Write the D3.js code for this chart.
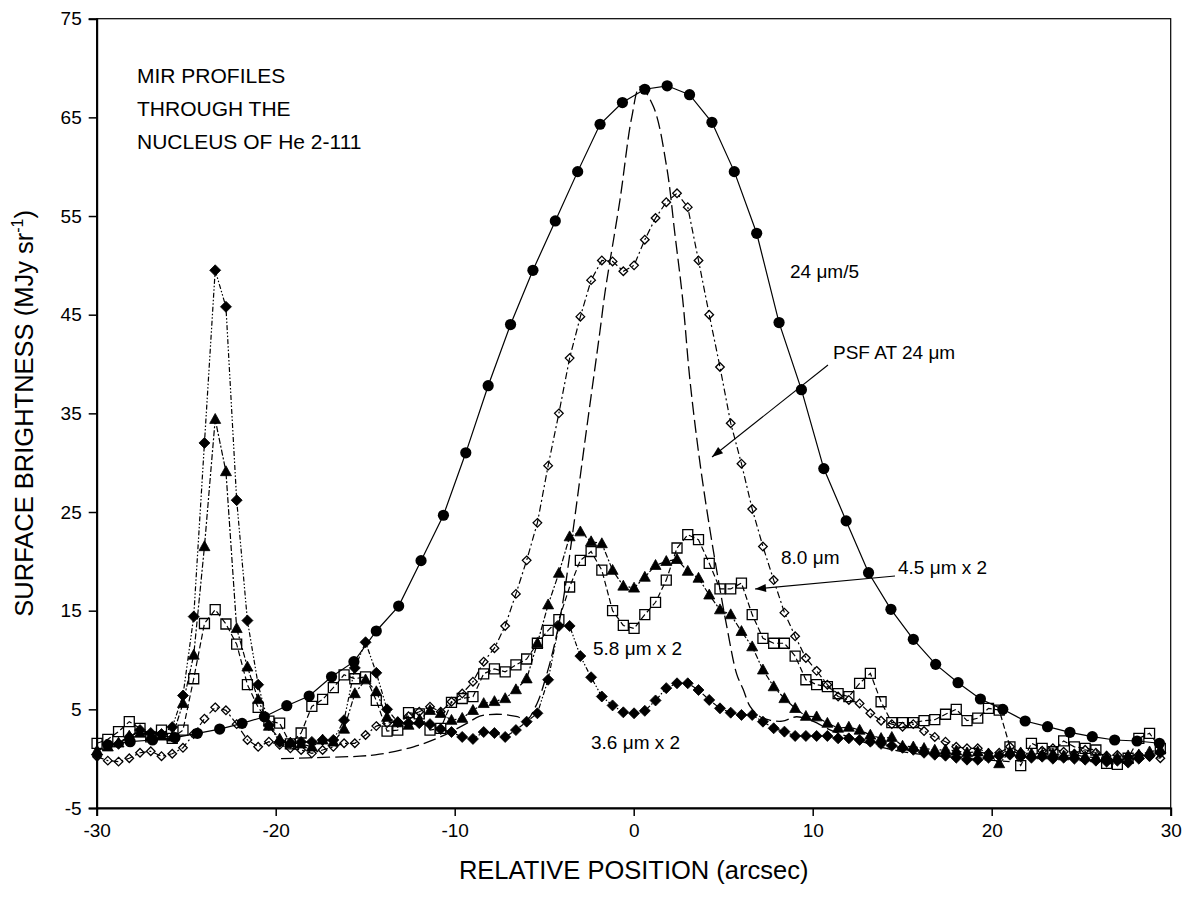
<!DOCTYPE html>
<html><head><meta charset="utf-8">
<script src="https://cdn.jsdelivr.net/npm/d3@7"></script>
<style>body{margin:0;background:#fff} text{font-family:"Liberation Sans",Arial,Helvetica,sans-serif;fill:#000}</style>
</head><body><svg id="c" width="1191" height="909"></svg>
<script>
// ---------- DATA ----------
const xTicks = [-30,-20,-10,0,10,20,30];
const yTicks = [-5,5,15,25,35,45,55,65,75];

// IRAC sampling positions (arcsec), 0.6" spacing
const iracX = d3.range(100).map(i => +(-29.98 + 0.6*i).toFixed(2));

const ch1_36 = [0.4,1.4,1.5,2.2,2.9,2.6,2.5,3.2,6.4,14.4,
 32.0,49.5,45.8,26.2,14.0,7.5,3.4,1.7,1.6,1.7,
 1.7,1.9,1.9,3.9,9.2,11.8,8.7,5.0,3.7,3.6,
 3.6,3.5,3.0,2.7,2.2,2.0,2.7,2.6,2.2,2.9,
 3.75,4.6,8.0,13.45,13.45,10.4,8.25,6.3,5.4,4.7,
 4.6,4.85,5.9,7.15,7.64,7.64,6.96,5.95,5.1,4.66,
 4.43,4.43,3.75,3.08,2.74,2.3,2.3,2.3,2.3,2.06,
 2.06,1.9,1.72,1.5,1.3,1.1,0.9,0.6,0.4,0.3,
 0.1,-0.1,-0.1,0.1,0.3,0.4,0.2,0.1,0.2,0.0,
 0.1,0.0,-0.1,-0.2,-0.3,-0.2,-0.4,0.0,0.3,0.6];

const ch2_45 = [1.56,1.96,2.74,3.75,3.08,2.2,2.9,2.06,2.9,8.1,
 13.7,15.1,13.65,11.6,7.5,5.2,3.8,3.6,1.5,2.6,
 5.3,6.0,7.2,8.5,8.1,8.3,5.9,2.8,2.9,4.66,
 4.53,2.9,3.08,5.7,6.1,6.28,8.6,9.1,8.8,9.5,
 10.1,11.7,13.0,14.1,17.4,20.1,21.0,19.1,15.0,13.5,
 13.2,14.6,15.85,18.1,21.35,22.7,22.2,19.8,17.2,17.2,
 17.8,14.6,12.2,11.7,11.7,10.4,8.0,7.5,7.3,6.6,
 6.28,7.64,8.65,5.77,3.65,3.65,3.65,3.85,3.95,4.5,
 5.0,3.85,4.1,5.1,4.93,1.2,-0.7,1.56,1.05,0.7,
 1.8,1.2,1.05,0.88,-0.47,-0.57,0.04,2.06,2.57,1.05];

const ch3_58 = [0.8,1.2,1.6,2.3,2.6,2.3,2.3,2.2,5.6,10.5,
 21.5,34.4,29.1,13.2,9.3,6.0,3.3,2.0,1.6,1.5,
 1.2,1.9,1.7,3.0,6.6,8.0,6.8,4.2,3.65,3.4,
 3.9,4.9,4.6,3.9,4.1,4.9,5.6,5.8,6.1,7.0,
 8.1,11.7,15.6,18.8,22.5,23.0,22.0,21.8,19.1,17.5,
 17.3,18.4,19.6,20.0,20.2,19.0,18.3,16.6,15.1,14.6,
 12.9,11.35,9.0,7.3,6.1,5.1,4.3,4.25,3.6,3.1,
 3.2,2.9,2.4,2.06,2.17,1.28,1.2,1.05,0.88,0.9,
 0.8,0.6,0.7,0.5,-0.5,0.7,0.6,0.5,0.4,0.5,
 0.3,0.4,0.2,0.1,0.2,0.1,0.3,0.4,0.7,0.9];

const ch4_80 = [0.2,-0.2,-0.3,0.04,0.6,0.75,0.25,0.5,1.1,2.5,
 4.05,5.2,4.9,3.5,1.9,1.2,1.72,1.4,1.05,0.88,
 0.54,0.88,1.2,1.56,1.56,2.4,3.3,3.6,3.75,4.3,
 4.76,5.27,4.76,5.77,6.6,7.8,9.83,11.2,13.45,16.7,
 20.1,23.9,29.7,35.0,40.6,44.8,48.5,50.5,50.4,49.4,
 50.0,52.6,54.8,56.4,57.3,55.9,50.5,45.0,39.7,34.0,
 29.9,25.3,21.5,18.1,14.8,12.4,10.2,8.9,7.5,6.3,
 5.95,5.6,4.6,3.85,3.5,3.24,3.5,2.8,2.2,1.72,
 1.2,1.05,1.05,0.54,0.6,1.2,0.6,0.2,0.8,1.05,
 0.7,0.5,0.9,0.6,0.3,0.37,0.2,0.4,0.2,0.04];

// MIPS 24 um / 5
const mipsX = [-29.38,-28.13,-26.88,-25.63,-24.38,-23.13,-21.88,-20.63,-19.38,-18.13,
 -16.88,-15.63,-14.38,-13.13,-11.88,-10.63,-9.38,-8.13,-6.88,-5.63,
 -4.38,-3.13,-1.88,-0.63,0.62,1.87,3.12,4.37,5.62,6.87,
 8.12,9.37,10.62,11.87,13.12,14.37,15.62,16.87,18.12,19.37,
 20.62,21.87,23.12,24.37,25.62,26.87,28.12,29.37];
const mips24 = [1.4,1.72,1.89,2.13,2.57,3.0,3.58,4.25,5.37,6.35,
 8.3,9.83,12.94,15.47,20.07,24.67,31.0,37.8,44.0,49.5,
 54.5,59.5,64.3,66.5,67.85,68.2,67.3,64.5,59.5,53.25,
 44.2,37.4,29.4,24.1,18.85,15.14,12.1,9.56,7.7,6.05,
 5.0,3.82,3.24,2.67,2.23,1.89,1.79,1.56];

// PSF at 24 um (traced curve)
const psfX = [-19.7,-17.0,-15.3,-14.2,-12.3,-10.8,-9.3,-8.6,-7.65,-6.5,-6.0,-5.4,-4.9,-4.5,-4.0,-3.46,-2.7,-1.88,-1.6,-0.77,-0.11,0.35,1.1,1.84,2.3,2.74,3.14,3.7,4.26,4.73,5.2,5.75,6.12,6.5,7.06,7.6,8.3,9.1,10.0,11.0,12.0,13.76,15.6,17.5,19.5,21.0];
const psfY = [0.0,0.15,0.25,0.45,1.2,2.2,3.6,4.3,4.5,4.25,3.9,5.6,8.3,11.0,15.4,22.2,32.5,43.4,47.3,56.6,65.0,68.1,66.1,60.0,53.2,46.5,38.4,30.0,23.2,18.1,13.4,8.6,7.0,5.3,4.25,3.9,3.8,4.25,3.8,2.9,2.2,1.2,0.54,0.2,-0.1,-0.3];

// ---------- CHART ----------
const FONT = '"Liberation Sans",Arial,sans-serif';
const svg = d3.select("#c");
const x = d3.scaleLinear().domain([-30,30]).range([96.7,1170.7]);
const y = d3.scaleLinear().domain([-5,75]).range([808,18.7]);

// frame
svg.append("rect").attr("x",x(-30)).attr("y",y(75)).attr("width",x(30)-x(-30)).attr("height",y(-5)-y(75))
  .attr("fill","none").attr("stroke","#000").attr("stroke-width",1.2);

const ax = svg.append("g").attr("transform",`translate(0,${y(-5)})`)
  .call(d3.axisBottom(x).tickValues(xTicks).tickSize(8).tickPadding(8).tickFormat(d=>String(d)));
const ay = svg.append("g").attr("transform",`translate(${x(-30)},0)`)
  .call(d3.axisLeft(y).tickValues(yTicks).tickSize(8).tickPadding(7).tickFormat(d=>String(d)));
[ax,ay].forEach(g=>{
  g.select(".domain").attr("stroke","#000").attr("stroke-width",2);
  g.selectAll(".tick line").attr("stroke","#000").attr("stroke-width",1.5);
  g.selectAll(".tick text").attr("font-size",19).attr("font-family",FONT).attr("fill","#000");
});

const line = d3.line().x(d=>x(d[0])).y(d=>y(d[1]));
const zip = (xs,ys)=>xs.map((v,i)=>[v,ys[i]]);

// PSF
svg.append("path").datum(zip(psfX,psfY))
  .attr("d",d3.line().x(d=>x(d[0])).y(d=>y(d[1])).curve(d3.curveCatmullRom.alpha(0.5)))
  .attr("fill","none").attr("stroke","#000").attr("stroke-width",1.3).attr("stroke-dasharray","13,5");

function series(xs, ys, dash, shape, fill, size){
  const pts = zip(xs,ys);
  svg.append("path").datum(pts).attr("d",line).attr("fill","none").attr("stroke","#000")
    .attr("stroke-width",1.2).attr("stroke-dasharray",dash);
  const g = svg.append("g");
  pts.forEach(p=>{
    const cx = x(p[0]), cy = y(p[1]);
    let d;
    const r = size;
    if(shape==="circle"){
      g.append("circle").attr("cx",cx).attr("cy",cy).attr("r",r).attr("fill","#000");
      return;
    }
    if(shape==="diamond") d=`M${cx},${cy-r}L${cx+r},${cy}L${cx},${cy+r}L${cx-r},${cy}Z`;
    if(shape==="square") d=`M${cx-r},${cy-r}h${2*r}v${2*r}h${-2*r}Z`;
    if(shape==="triangle") d=`M${cx},${cy-r*1.05}L${cx+r},${cy+r*0.75}L${cx-r},${cy+r*0.75}Z`;
    g.append("path").attr("d",d).attr("fill",fill?"#000":"none").attr("stroke","#000").attr("stroke-width",fill?0.8:1.3);
  });
}

series(iracX, ch4_80, "7,3,2,3", "diamond", false, 4.3);
series(iracX, ch2_45, "6,3", "square", false, 5);
series(iracX, ch3_58, "6,2,2,2", "triangle", true, 5.5);
series(iracX, ch1_36, "5,2,1.5,2,1.5,2", "diamond", true, 5.5);
series(mipsX, mips24, null, "circle", true, 5.6);

// arrows
function arrow(x1,y1,x2,y2){
  svg.append("line").attr("x1",x1).attr("y1",y1).attr("x2",x2).attr("y2",y2).attr("stroke","#000").attr("stroke-width",1.1);
  const a = Math.atan2(y2-y1,x2-x1), L=11, W=4;
  const bx = x2 - L*Math.cos(a), by = y2 - L*Math.sin(a);
  const px = -Math.sin(a)*W, py = Math.cos(a)*W;
  svg.append("path").attr("d",`M${x2},${y2}L${bx+px},${by+py}L${bx-px},${by-py}Z`).attr("fill","#000");
}
arrow(828,365,712,457);
arrow(895,576,755,589);

// labels
const T = (tx,ty,s,fs)=>svg.append("text").attr("x",tx).attr("y",ty).attr("font-size",fs).text(s);
T(137,83,"MIR PROFILES",21);
T(137,116,"THROUGH THE",21);
T(137,149,"NUCLEUS OF He 2-111",21);
T(790,278,"24 \u03bcm/5",19);
T(833,359,"PSF AT 24 \u03bcm",19);
T(781,564,"8.0 \u03bcm",19);
T(898,574,"4.5 \u03bcm x 2",19);
T(593,655,"5.8 \u03bcm x 2",19);
T(591,749,"3.6 \u03bcm x 2",19);

svg.append("text").attr("x",(x(-30)+x(30))/2).attr("y",879).attr("text-anchor","middle").attr("font-size",25.5)
  .text("RELATIVE POSITION (arcsec)");
const yl = svg.append("text").attr("transform",`translate(33,${(y(-5)+y(75))/2}) rotate(-90)`)
  .attr("text-anchor","middle").attr("font-size",25.5);
yl.append("tspan").text("SURFACE BRIGHTNESS (MJy sr");
yl.append("tspan").attr("font-size",16).attr("dy",-10).text("-1");
yl.append("tspan").attr("dy",10).text(")");
</script></body></html>
